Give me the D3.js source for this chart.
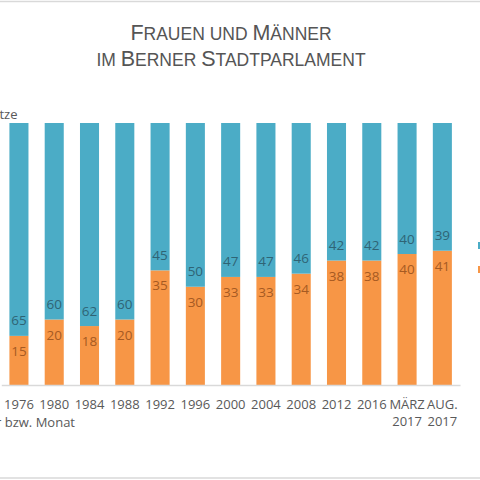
<!DOCTYPE html>
<html lang="de">
<head>
    <meta charset="UTF-8">
    <title>Frauen und Männer im Berner Stadtparlament</title>
    <script src="https://d3js.org/d3.v7.min.js"></script>
    <style>
        body { margin: 0; background: #fff; }
    </style>
</head>
<body>
    <div id="chart"></div>

    <script>
        // Data (Sitze, total 80)
        const periods = ["1976", "1980", "1984", "1988", "1992", "1996", "2000", "2004", "2008", "2012", "2016", "MÄRZ 2017", "AUG. 2017"];
        const frauen  = [15, 20, 18, 20, 35, 30, 33, 33, 34, 38, 38, 40, 41];
        const maenner = [65, 60, 62, 60, 45, 50, 47, 47, 46, 42, 42, 40, 39];
        const seriesNames = ["Männer", "Frauen"];

        const data = periods.map((p, i) => ({ period: p, frauen: frauen[i], maenner: maenner[i] }));

        const W = 480, H = 480;
        const svg = d3.select("#chart").append("svg")
            .attr("width", W)
            .attr("height", H);

        const blue = "#4bacc6", orange = "#f79646";
        const grey = "#595959";
        const tickFont = "'Open Sans', sans-serif";

        // chart border
        svg.append("rect")
            .attr("x", -5).attr("y", 1.5)
            .attr("width", W + 10).attr("height", 476.5)
            .attr("fill", "none")
            .attr("stroke", "#d9d9d9")
            .attr("stroke-width", 1.5);

        // scales
        const x = d3.scaleBand()
            .domain(periods)
            .range([1.3, 460])
            .paddingInner(0.46)
            .paddingOuter(0.23);

        const y = d3.scaleLinear()
            .domain([0, 80])
            .range([385, 123]);

        // bars: Frauen at the bottom, Männer on top
        svg.selectAll(".bar-frauen")
            .data(data)
            .enter().append("rect")
            .attr("class", "bar-frauen")
            .attr("x", d => x(d.period))
            .attr("y", d => y(d.frauen))
            .attr("width", x.bandwidth())
            .attr("height", d => y(0) - y(d.frauen))
            .attr("fill", orange);

        svg.selectAll(".bar-maenner")
            .data(data)
            .enter().append("rect")
            .attr("class", "bar-maenner")
            .attr("x", d => x(d.period))
            .attr("y", d => y(d.frauen + d.maenner))
            .attr("width", x.bandwidth())
            .attr("height", d => y(d.frauen) - y(d.frauen + d.maenner))
            .attr("fill", blue);

        // value labels
        svg.selectAll(".lbl-maenner")
            .data(data)
            .enter().append("text")
            .attr("x", d => x(d.period) + x.bandwidth() / 2)
            .attr("y", d => y(d.frauen) - 10.5)
            .attr("text-anchor", "middle")
            .style("font-family", tickFont)
            .style("font-size", "13.5px")
            .attr("fill", "#2f6475")
            .text(d => d.maenner);

        svg.selectAll(".lbl-frauen")
            .data(data)
            .enter().append("text")
            .attr("x", d => x(d.period) + x.bandwidth() / 2)
            .attr("y", d => y(d.frauen) + 20)
            .attr("text-anchor", "middle")
            .style("font-family", tickFont)
            .style("font-size", "13.5px")
            .attr("fill", "#a65a22")
            .text(d => d.frauen);

        // x axis
        const xAxis = svg.append("g")
            .attr("transform", `translate(0,${y(0)})`)
            .call(d3.axisBottom(x).tickSize(0).tickPadding(0).tickFormat(""));
        xAxis.select(".domain").attr("stroke", "#d9d9d9").attr("stroke-width", 1.5);

        xAxis.selectAll(".tick").each(function (d) {
            const t = d3.select(this).append("text")
                .attr("text-anchor", "middle")
                .attr("fill", grey)
                .style("font-family", tickFont)
                .style("font-size", "13px");
            d.split(" ").forEach((part, i) => {
                t.append("tspan")
                    .attr("x", 0)
                    .attr("y", 24 + i * 17)
                    .text(part);
            });
        });

        // axis titles
        svg.append("text")
            .attr("x", 17.5).attr("y", 119)
            .attr("text-anchor", "end")
            .attr("fill", grey)
            .style("font-family", tickFont)
            .style("font-size", "13px")
            .text("Sitze");

        svg.append("text")
            .attr("x", 75).attr("y", 427)
            .attr("text-anchor", "end")
            .attr("fill", grey)
            .style("font-family", tickFont)
            .style("font-size", "13px")
            .text("Jahr bzw. Monat");

        // title in small caps
        const titleLines = [
            [["F", 1], ["RAUEN UND ", 0], ["M", 1], ["ÄNNER", 0]],
            [["IM ", 0], ["B", 1], ["ERNER ", 0], ["S", 1], ["TADTPARLAMENT", 0]]
        ];
        titleLines.forEach((parts, i) => {
            const t = svg.append("text")
                .attr("x", 231).attr("y", 39.5 + i * 26.5)
                .attr("text-anchor", "middle")
                .attr("fill", "#555")
                .style("font-family", "'Liberation Sans', Arial, sans-serif");
            parts.forEach(([s, big]) => {
                t.append("tspan")
                    .style("font-size", big ? "21.5px" : "17.5px")
                    .text(s);
            });
        });

        // legend (mostly outside the visible area)
        const legend = svg.append("g").attr("transform", "translate(478,0)");
        [[blue, 242], [orange, 266]].forEach(([c, ly], i) => {
            legend.append("rect")
                .attr("x", 0).attr("y", ly)
                .attr("width", 7).attr("height", 7)
                .attr("fill", c);
            legend.append("text")
                .attr("x", 12).attr("y", ly + 7)
                .attr("fill", grey)
                .style("font-family", tickFont)
                .style("font-size", "13px")
                .text(seriesNames[i]);
        });
    </script>
</body>
</html>
